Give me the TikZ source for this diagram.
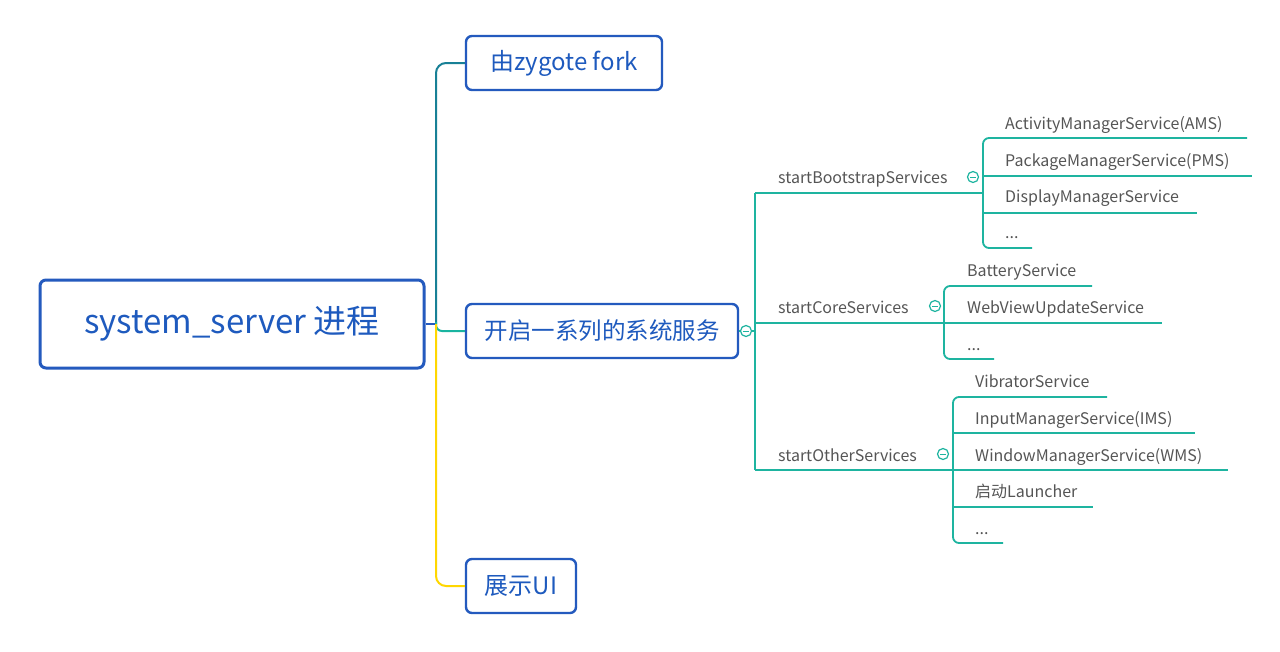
\documentclass[tikz,border=0pt]{standalone}
\usepackage{fontspec}
\setmainfont{Noto Sans CJK SC}
\begin{document}
\begin{tikzpicture}[x=1pt,y=-1pt,
  boxc/.style={draw=boxblue, line width=2.4pt, rounded corners=6pt, fill=white, text=txtblue, inner sep=0pt},
  leaf/.style={anchor=base west, text=leafgray, font=\fontsize{16}{19}\selectfont, inner sep=0pt},
  br/.style={draw=branchgreen, line width=1.8pt},
  fold/.style={circle, draw=branchgreen, line width=1.2pt, fill=white, minimum size=11pt, inner sep=0pt}
]
\definecolor{boxblue}{RGB}{36,90,190}
\definecolor{txtblue}{RGB}{30,90,190}
\definecolor{topteal}{RGB}{24,128,150}
\definecolor{midteal}{RGB}{25,180,160}
\definecolor{uiyellow}{RGB}{255,215,0}
\definecolor{branchgreen}{RGB}{30,180,160}
\definecolor{leafgray}{RGB}{85,85,85}
\useasboundingbox (0,0) rectangle (1280,651);
\fill[white] (0,0) rectangle (1280,651);

% main boxes
\node[boxc, line width=3pt, minimum width=384pt, minimum height=88pt, font=\fontsize{33}{40}\selectfont] (root) at (232,324) {system\_server 进程};
\node[boxc, minimum width=196pt, minimum height=54pt, font=\fontsize{24}{28}\selectfont] (zyg) at (564,63) {由zygote fork};
\node[boxc, minimum width=272pt, minimum height=54pt, font=\fontsize{23.5}{28}\selectfont] (svc) at (602,331) {开启一系列的系统服务};
\node[boxc, minimum width=110pt, minimum height=54pt, font=\fontsize{24}{28}\selectfont] (ui) at (521,586) {展示UI};

% left connectors
\coordinate (jn) at (436,324);
\draw[boxblue, line width=2pt] (root.east) -- (jn);
\draw[topteal, line width=2pt, rounded corners=10pt] (jn) -- (436,63) -- (zyg.west);
\draw[midteal, line width=2pt, rounded corners=6pt] (436,322) |- (svc.west);
\draw[uiyellow, line width=2pt, rounded corners=10pt] (jn) -- (436,586) -- (ui.west);

% trunk from services
\coordinate (tr) at (755,331);
\draw[br] (svc.east) -- (tr);
\draw[br] (755,193) -- (755,470);
\node[fold] (f0) at (746,331) {};
\draw[branchgreen, line width=1pt] (743,331) -- (749,331);

% startX labels
\node[leaf] (lb) at (778,183) {startBootstrapServices};
\node[leaf] (lc) at (778,313) {startCoreServices};
\node[leaf] (lo) at (778,461) {startOtherServices};

% bootstrap
\coordinate (vb) at (983,193);
\draw[br] (755,193) -- (vb);
\draw[br, rounded corners=6pt] (1247,138) -- (983,138) -- (983,248) -- (1032,248);
\draw[br] (983,176) -- (1252,176);
\draw[br] (983,213) -- (1197,213);
\node[fold] (f1) at (973,177) {};
\draw[branchgreen, line width=1pt] (970,177) -- (976,177);
\node[leaf] (b1) at (1005,129) {ActivityManagerService(AMS)};
\node[leaf] (b2) at (1005,166) {PackageManagerService(PMS)};
\node[leaf] (b3) at (1005,202) {DisplayManagerService};
\node[leaf] (b4) at (1005,238) {...};

% core
\coordinate (vc) at (944,323);
\draw[br] (755,323) -- (vc);
\draw[br, rounded corners=6pt] (1092,286) -- (944,286) -- (944,359) -- (994,359);
\draw[br] (944,323) -- (1162,323);
\node[fold] (f2) at (935,306) {};
\draw[branchgreen, line width=1pt] (932,306) -- (938,306);
\node[leaf] (c1) at (967,276) {BatteryService};
\node[leaf] (c2) at (967,313) {WebViewUpdateService};
\node[leaf] (c3) at (967,350) {...};

% other
\coordinate (vo) at (953,470);
\draw[br] (755,470) -- (vo);
\draw[br, rounded corners=6pt] (1107,397) -- (953,397) -- (953,543) -- (1003,543);
\draw[br] (953,433) -- (1195,433);
\draw[br] (953,470) -- (1228,470);
\draw[br] (953,507) -- (1093,507);
\node[fold] (f3) at (943,454) {};
\draw[branchgreen, line width=1pt] (940,454) -- (946,454);
\node[leaf] (o1) at (975,387) {VibratorService};
\node[leaf] (o2) at (975,424) {InputManagerService(IMS)};
\node[leaf] (o3) at (975,461) {WindowManagerService(WMS)};
\node[leaf] (o4) at (975,497) {启动Launcher};
\node[leaf] (o5) at (975,534) {...};
\end{tikzpicture}
\end{document}
